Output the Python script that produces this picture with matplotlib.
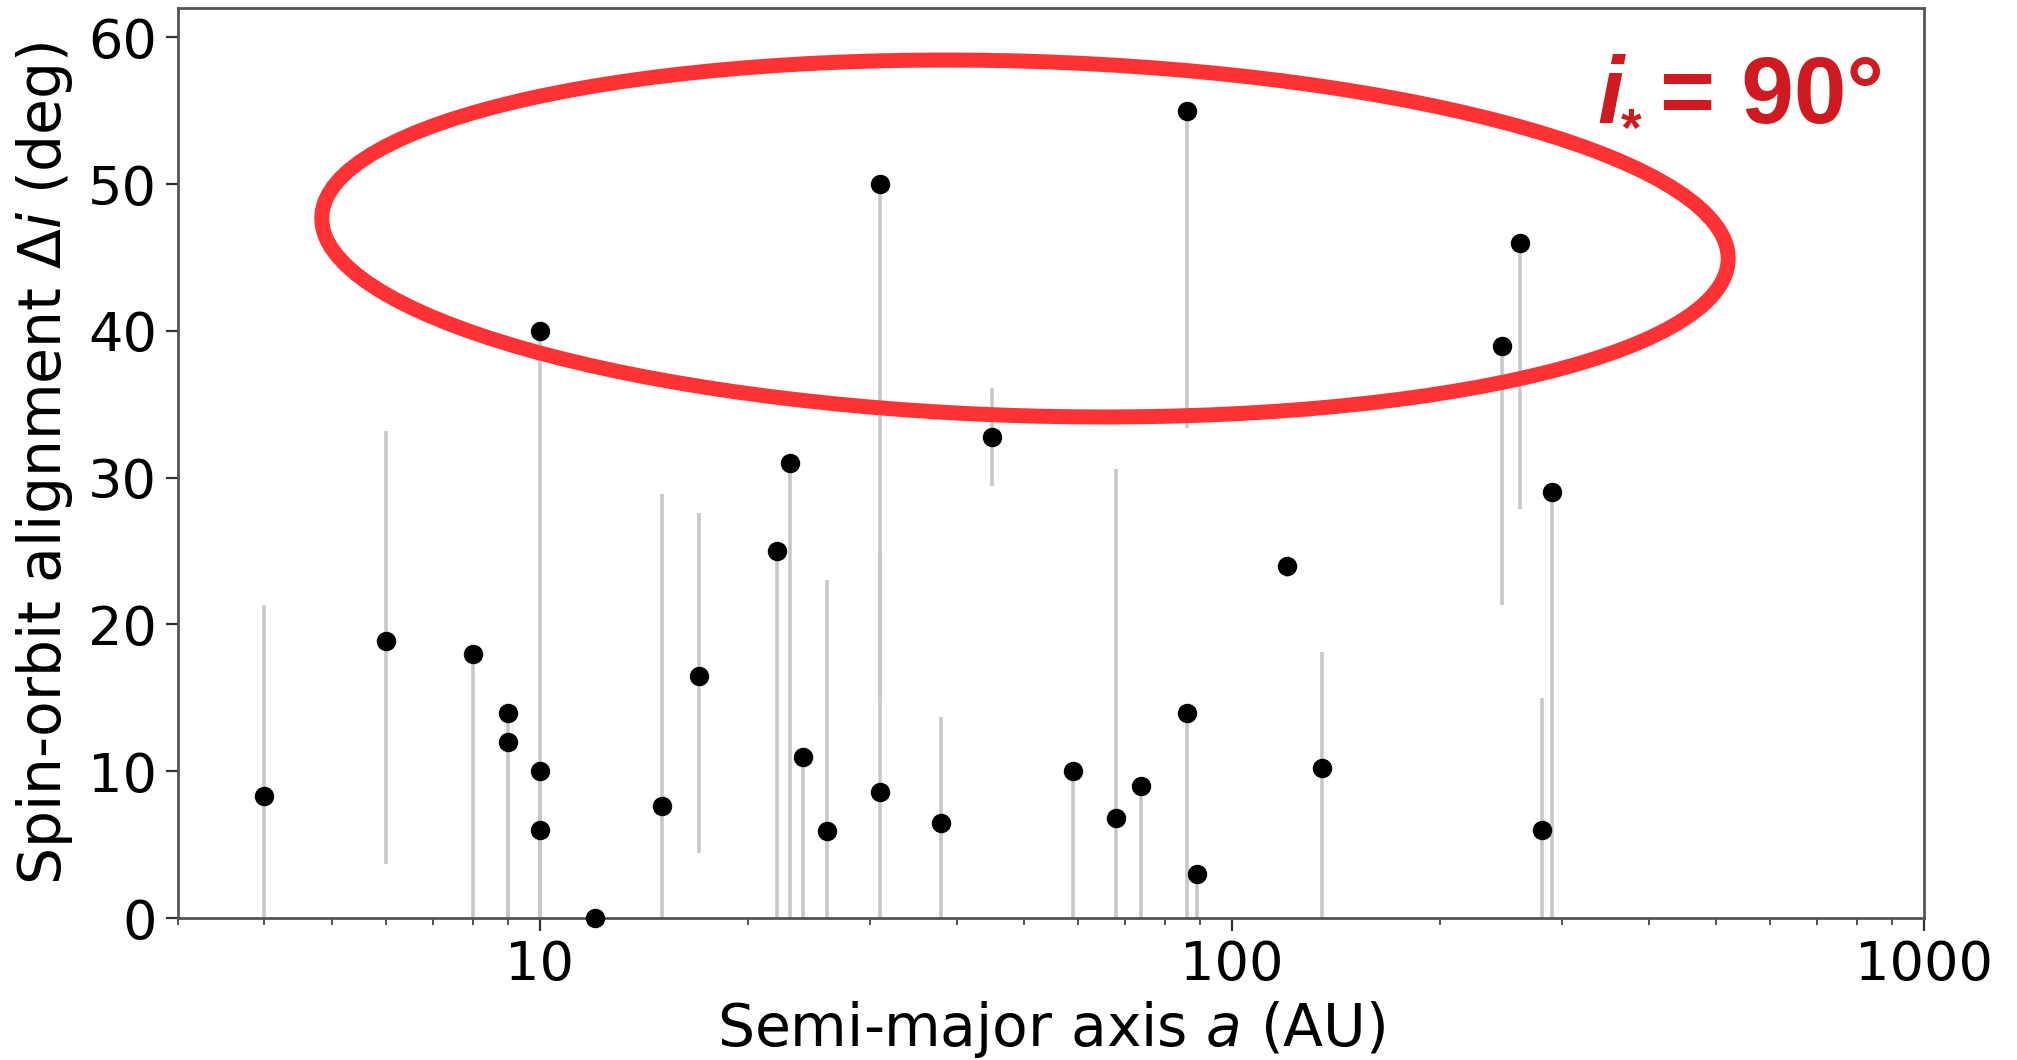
import numpy as np
import matplotlib.pyplot as plt
from matplotlib.patches import Ellipse

# semi-major axis (AU), spin-orbit misalignment (deg), and error-bar ends
sma = [4, 6, 8, 9, 9, 10, 10, 10, 12, 15, 17, 22, 23, 24, 26, 31, 31, 38, 45,
       59, 68, 74, 86, 86, 89, 120, 135, 246, 261, 281, 290]
dinc = [8.3, 18.9, 18, 14, 12, 40, 10, 6, 0, 7.6, 16.5, 25, 31, 11, 5.9, 50, 8.6, 6.5, 32.8,
        10, 6.8, 9, 55, 14, 3, 24, 10.2, 39, 46, 6, 29]
dinc_lo = [0, 3.7, 0, 0, 0, 0, 0, 0, 0, 0, 4.4, 0, 0, 0, 0, 15, 0, 0, 29.4,
           0, 0, 0, 33.4, 0, 0, 23.2, 0, 21.3, 27.9, 0, 0]
dinc_hi = [21.3, 33.2, 18, 14, 12, 40, 10, 6, 0, 28.9, 27.6, 25, 31, 11, 23, 50, 25, 13.7, 36.1,
           10, 30.6, 9, 55, 14, 3, 24, 18.1, 39, 46, 15, 29]

sma = np.array(sma)
dinc = np.array(dinc)
yerr = [dinc - np.array(dinc_lo), np.array(dinc_hi) - dinc]

W, H = 2017, 1060
fig = plt.figure(figsize=(W/100, H/100), dpi=100)
ax = fig.add_axes([178/W, 1-918/H, (1924-178)/W, (918-8)/H])

ax.errorbar(sma, dinc, yerr=yerr, fmt='none', ecolor='#c8c8c8', elinewidth=2.6, capsize=0, zorder=2)
ax.plot(sma, dinc, 'o', color='black', ms=13, zorder=3, clip_on=False)

ax.set_xscale('log')
ax.set_xlim(3, 1000)
ax.set_ylim(0, 62)
ax.set_yticks([0, 10, 20, 30, 40, 50, 60])
ax.set_xticks([10, 100, 1000])
ax.set_xticklabels(['10', '100', '1000'])
ax.tick_params(labelsize=39, length=9, width=1.6, color='#333333', pad=6)
ax.tick_params(which='minor', length=5, width=1.2, color='#333333')
for s in ax.spines.values():
    s.set_color('#555555')
    s.set_linewidth(2)

ax.set_xlabel('Semi-major axis $a$ (AU)', fontsize=42)
ax.set_ylabel(r'Spin-orbit alignment $\Delta i$ (deg)', fontsize=42)
ax.xaxis.label.set_va('center')
ax.yaxis.label.set_va('center')
ax.xaxis.set_label_coords(0.5, (918-1029)/910)
ax.yaxis.set_label_coords((45-178)/1746, 0.5)

# red ellipse highlighting the misaligned systems
ell = Ellipse((10.25, 8.215), 14.07, 3.545, angle=-1.75, fill=False,
              edgecolor='#ff3336', linewidth=10.8, transform=fig.dpi_scale_trans, clip_on=False, zorder=5)
fig.add_artist(ell)

red = '#d01a21'
fig.text(1597/W, 1-123/H, 'i', color=red, fontsize=68, fontweight='bold', fontstyle='italic',
         family='Liberation Sans', va='baseline', ha='left')
fig.text(1621/W, 1-146/H, '*', color=red, fontsize=38, fontweight='bold',
         family='Liberation Sans', va='baseline', ha='left')
fig.text(1660/W, 1-123/H, '= 90°', color=red, fontsize=68, fontweight='bold',
         family='Liberation Sans', va='baseline', ha='left')

fig.savefig('out.png', dpi=100)
